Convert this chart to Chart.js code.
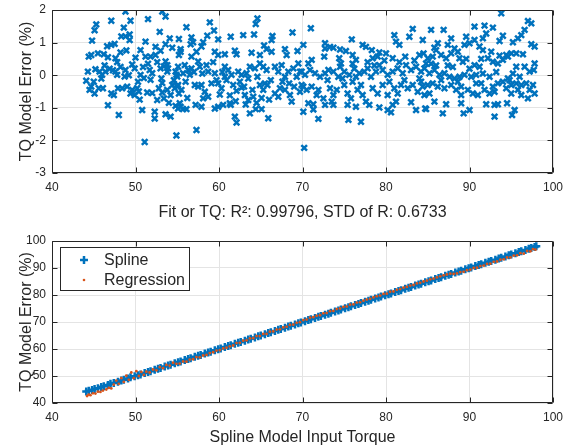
<!DOCTYPE html>
<html><head><meta charset="utf-8">
<script src="https://cdn.jsdelivr.net/npm/chart.js@4.4.0/dist/chart.umd.min.js"></script>
<style>
html,body{margin:0;padding:0;background:#fff;width:564px;height:447px;overflow:hidden}
canvas{position:absolute;left:0}
#c1{top:0}
#c2{top:225px}
</style></head><body>
<canvas id="c1" width="564" height="225"></canvas>
<canvas id="c2" width="564" height="222"></canvas>
<script>
// ---------- top panel: model error (%) vs input torque ----------
const errX = [
48.8,53.2,53.6,51.5,49.4,47.1,45.3,45.1,48.6,52.9,
48.3,48.8,49.3,49.3,44.8,51.2,54.1,55.2,46.6,47.1,
47.5,48.9,48.2,45.5,46.2,44.4,44.7,46.7,47.6,47.8,
50.0,50.6,51.2,51.8,52.4,52.4,53.0,53.6,54.4,53.6,
53.8,55.2,55.4,49.6,49.9,44.3,45.2,45.7,46.4,46.0,
47.6,47.8,48.8,48.7,50.6,51.0,51.7,52.0,51.8,53.0,
53.4,53.9,53.8,54.8,55.0,44.1,44.7,45.1,45.6,46.1,
47.1,47.4,47.9,48.4,49.0,49.6,50.2,50.4,49.4,49.9,
51.4,52.8,53.2,53.8,54.2,53.2,54.4,52.6,53.4,55.0,
55.2,46.7,50.8,52.3,52.3,53.6,54.2,48.0,54.8,55.4,
54.9,51.1,
64.6,64.4,58.9,56.1,59.4,56.7,56.9,56.6,58.6,58.1,
57.9,59.9,61.4,62.9,64.2,66.4,66.3,68.8,55.4,57.3,
56.7,59.5,59.9,60.7,61.9,62.1,63.9,64.9,65.4,65.7,
66.3,67.9,68.1,69.4,70.1,55.1,55.9,56.3,56.7,54.9,
55.7,56.5,57.5,57.7,58.5,58.7,59.5,59.7,59.1,60.7,
61.1,60.7,61.5,62.3,62.7,63.3,63.7,64.3,64.9,65.3,
65.7,66.7,67.1,67.5,67.9,68.3,68.9,69.3,69.9,54.7,
55.5,55.1,57.1,57.5,57.9,58.3,58.7,58.1,59.9,60.3,
60.1,61.7,62.1,62.7,63.1,63.5,64.1,64.9,65.3,65.5,
66.7,67.1,67.3,67.9,68.5,68.7,69.7,70.1,55.3,55.1,
55.7,56.1,57.2,57.9,59.5,59.9,60.5,61.3,61.4,61.9,
62.1,63.7,64.4,65.1,65.9,70.1,57.3,70.2,
71.0,75.9,72.7,73.3,73.7,72.7,74.5,75.2,77.2,77.6,
78.3,79.2,80.0,81.0,81.2,81.6,83.2,82.8,84.4,82.3,
80.8,84.0,84.5,72.6,71.1,70.7,74.4,74.6,76.0,76.4,
78.4,79.0,69.5,69.7,70.3,70.9,71.5,72.1,72.7,73.1,
73.7,74.3,74.5,75.0,75.6,76.0,76.4,76.8,77.4,77.8,
78.2,78.8,79.2,79.6,80.2,80.8,81.4,82.0,82.4,83.0,
83.6,84.2,84.8,69.9,70.5,71.1,71.7,71.9,72.5,73.3,
73.7,74.1,73.5,75.0,75.4,75.8,76.6,77.2,77.6,77.0,
78.4,79.0,79.6,80.2,81.0,81.4,81.8,82.6,83.2,83.8,
84.4,81.2,80.8,83.0,70.7,71.3,72.7,73.7,75.4,76.4,
78.0,79.2,80.2,80.6,71.3,83.6,84.7,71.9,75.5,77.0,
93.8,97.0,97.4,90.6,91.8,92.8,85.4,86.9,96.6,96.2,
95.8,94.0,93.6,91.6,92.0,89.6,87.8,97.4,97.8,95.2,
96.4,86.2,85.8,86.0,87.4,88.2,88.6,89.4,90.0,90.6,
91.2,91.6,92.6,94.4,95.0,95.6,85.0,85.6,86.6,87.2,
87.8,88.8,89.2,90.6,91.2,92.2,92.8,93.4,94.0,94.6,
95.6,96.6,97.8,97.7,97.2,84.6,85.2,85.8,86.4,87.0,
87.6,88.2,88.8,89.4,90.2,90.8,91.4,92.4,93.4,94.0,
94.6,95.0,95.6,96.2,96.8,97.6,84.2,85.0,85.6,86.2,
87.0,87.8,88.4,89.0,89.8,90.4,91.0,91.8,92.4,93.0,
94.4,95.0,95.8,96.2,97.0,97.8,85.2,84.6,89.0,89.0,
85.8,87.2,84.8,86.8,89.3,90.0,92.0,93.0,93.4,94.5,
93.0,95.1,95.4,
60.9,61.3,62.5,63.0,63.5,64.0,64.6,65.1,65.8,66.2,
62.0,63.2,64.5,66.0,67.6,68.4,69.0,60.4,59.3,58.0,
57.0,56.0,54.6,53.1,52.6,51.5,50.9,50.3,49.2,48.2,
46.9,45.9,45.0,44.5,46.3,47.3,50.5,52.0,54.0,56.2,
73.0,74.8,76.2,78.6,80.4,82.2,84.0,86.0,88.0,90.0,
91.6,93.2,95.2,96.0,97.2,86.6,88.6,90.8,92.8,94.8,
76.0,77.8,79.8,81.6,83.4,85.4,87.4,89.6,91.4,93.6
];
const errY = [
1.95,1.95,1.80,1.72,1.67,1.67,1.56,1.38,1.46,1.33,
1.19,1.19,1.25,1.08,1.06,1.03,1.13,1.11,0.89,0.93,
0.96,0.76,0.70,0.67,0.64,0.57,0.62,0.55,0.52,0.40,
0.54,0.77,0.57,0.57,0.62,0.87,0.75,0.95,0.84,0.42,
0.31,0.62,0.72,0.33,0.21,0.11,0.18,0.11,0.11,0.01,
0.11,0.01,0.16,-0.04,0.01,-0.09,0.16,0.06,-0.14,0.21,
0.27,0.21,0.11,0.11,-0.04,-0.17,-0.35,-0.56,-0.40,-0.40,
-0.56,-0.61,-0.40,-0.40,-0.35,-0.45,-0.40,-0.50,-0.56,-0.61,
-0.53,-0.40,-0.53,-0.45,-0.61,-0.24,-0.30,-0.76,-0.71,-0.35,
-0.56,-0.92,-1.07,-1.12,-1.33,-1.20,-1.27,-1.22,-0.94,-0.97,
-1.85,-2.05,
1.74,1.57,1.62,1.47,1.37,1.16,1.01,0.95,1.21,1.01,
0.88,1.10,1.18,1.23,1.25,1.20,1.08,1.31,0.80,0.72,
0.57,0.72,0.62,0.64,0.75,0.64,0.69,0.62,0.91,0.80,
0.72,0.80,0.62,0.74,0.93,0.26,0.31,0.16,0.21,0.01,
0.06,0.01,0.42,0.26,0.31,0.11,0.06,-0.15,-0.25,0.26,
0.16,-0.05,0.01,0.11,0.01,0.06,0.26,0.21,0.36,0.26,
0.16,0.26,0.11,0.31,-0.05,0.11,0.21,-0.05,0.11,-0.40,
-0.45,-0.30,-0.30,-0.35,-0.30,-0.51,-0.66,-0.71,-0.25,-0.40,
-0.59,-0.30,-0.48,-0.38,-0.61,-0.76,-0.66,-0.30,-0.45,-0.25,
-0.56,-0.66,-0.40,-0.45,-0.61,-0.81,-0.51,-0.35,-0.86,-1.02,
-1.04,-1.04,-0.91,-0.97,-1.02,-0.97,-0.91,-0.86,-0.91,-1.27,
-1.45,-1.17,-1.04,-1.04,-1.32,-1.12,-1.68,-2.23,
1.44,1.10,0.98,0.87,0.84,0.82,0.79,0.74,0.93,0.87,
0.77,0.70,0.67,1.23,1.03,0.93,1.42,1.18,1.08,0.57,
0.52,0.62,0.67,0.57,0.47,0.36,0.52,0.36,0.62,0.47,
0.52,0.57,0.36,0.11,0.01,0.16,0.06,-0.05,0.06,0.16,
0.11,-0.05,0.26,0.11,0.01,-0.20,-0.05,0.06,0.11,0.21,
-0.05,0.11,0.31,0.16,0.01,0.11,0.21,0.06,0.31,0.16,
0.26,0.11,0.36,-0.30,-0.45,-0.35,-0.61,-0.45,-0.71,-0.40,
-0.61,-0.45,-0.81,-0.30,-0.56,-0.71,-0.45,-0.61,-0.81,-0.30,
-0.40,-0.56,-0.30,-0.61,-0.40,-0.56,-0.30,-0.40,-0.30,-0.51,
-0.35,-0.81,-0.91,-0.83,-0.86,-0.89,-0.91,-0.91,-0.91,-0.97,
-0.91,-0.99,-1.07,-1.14,-1.05,-1.07,-1.02,-1.34,-1.37,-1.43,
1.90,1.66,1.59,1.49,1.52,1.46,1.39,1.39,1.39,1.23,
1.13,1.21,1.05,1.13,1.28,1.18,1.13,0.95,0.88,1.01,
0.64,0.98,0.84,0.77,0.93,0.82,0.72,0.93,0.98,1.08,
0.88,0.77,0.72,0.62,0.67,0.67,0.52,0.57,0.62,0.52,
0.67,0.52,0.41,0.31,0.26,0.52,0.41,0.36,0.47,0.57,
0.26,0.26,0.36,0.16,0.11,0.21,0.06,0.16,0.01,0.06,
-0.05,-0.10,-0.05,0.01,-0.05,0.01,-0.25,-0.05,-0.25,-0.20,
-0.10,-0.30,-0.25,-0.30,-0.25,-0.30,-0.20,-0.30,-0.25,-0.35,
-0.40,-0.30,-0.45,-0.35,-0.45,-0.56,-0.61,-0.45,-0.56,-0.51,
-0.40,-0.56,-0.45,-0.61,-0.71,-0.56,-0.56,-0.61,-0.61,-0.86,
-0.81,-0.89,-1.04,-1.17,-1.17,-1.07,-0.89,-0.91,-0.89,-0.86,
-1.27,-1.22,-1.07,
-0.15,-0.62,-0.20,-0.35,-0.10,-0.45,-0.05,-0.70,-0.30,-0.15,
-0.80,-0.90,-0.85,-0.75,-0.20,-0.25,-0.35,0.10,0.40,0.05,
0.10,-0.20,-0.15,-0.10,0.40,0.35,0.25,-0.20,0.00,0.25,
0.20,-0.10,-0.20,-0.45,0.30,0.15,-0.75,-0.55,-0.85,-0.70,
-0.15,-0.10,0.20,0.30,-0.20,-0.15,-0.10,0.30,0.25,0.20,
0.05,0.10,0.05,-0.05,-0.45,-0.15,-0.20,-0.25,-0.35,-0.15,
0.35,0.40,0.45,0.40,0.45,0.35,0.30,0.50,0.50,0.60
];

// ---------- bottom panel: model outputs vs input torque ----------
const splineX = [
44.1,44.4,44.8,45.1,45.5,45.9,46.2,46.7,47.0,47.4,
47.9,48.3,48.6,49.1,49.4,49.9,50.3,50.6,51.1,51.5,
51.8,52.3,52.7,53.0,53.5,53.9,54.2,54.7,55.1,55.4,
55.9,56.3,56.6,57.1,57.5,57.8,58.3,58.7,59.0,59.5,
59.9,60.2,60.7,61.1,61.4,61.9,62.3,62.6,63.1,63.5,
63.8,64.3,64.7,65.0,65.5,65.9,66.2,66.7,67.1,67.4,
67.9,68.3,68.6,69.1,69.5,69.8,70.3,70.7,71.0,71.5,
71.9,72.2,72.7,73.1,73.4,73.9,74.3,74.6,75.1,75.5,
75.8,76.3,76.7,77.0,77.5,77.9,78.2,78.7,79.1,79.4,
79.9,80.3,80.6,81.1,81.5,81.8,82.3,82.7,83.0,83.5,
83.9,84.2,84.7,85.1,85.4,85.9,86.3,86.6,87.1,87.5,
87.8,88.3,88.7,89.0,89.5,89.9,90.2,90.7,91.1,91.4,
91.9,92.3,92.6,93.1,93.5,93.8,94.3,94.7,95.0,95.5,
95.9,96.2,96.7,97.1,97.4,97.8,98.0
];
const splineY = [
44.3,44.5,44.8,45.2,45.5,45.9,46.2,46.7,47.1,47.4,
47.9,48.3,48.6,49.1,49.5,49.9,50.3,50.6,51.1,51.5,
51.8,52.3,52.7,53.0,53.5,53.9,54.2,54.7,55.1,55.4,
55.9,56.3,56.6,57.1,57.5,57.8,58.3,58.7,59.0,59.5,
59.9,60.2,60.7,61.1,61.4,61.9,62.3,62.6,63.1,63.5,
63.8,64.3,64.7,65.0,65.5,65.9,66.2,66.7,67.1,67.4,
67.9,68.3,68.6,69.1,69.5,69.8,70.3,70.7,71.0,71.5,
71.9,72.2,72.7,73.1,73.4,73.9,74.3,74.6,75.1,75.5,
75.8,76.3,76.7,77.0,77.5,77.9,78.2,78.7,79.1,79.4,
79.9,80.3,80.6,81.1,81.5,81.8,82.3,82.7,83.0,83.5,
83.9,84.2,84.7,85.1,85.4,85.9,86.3,86.6,87.1,87.5,
87.8,88.3,88.7,89.0,89.5,89.9,90.2,90.7,91.1,91.4,
91.9,92.3,92.6,93.1,93.5,93.8,94.3,94.7,95.0,95.5,
95.9,96.2,96.7,97.1,97.4,97.8,98.1
];
const regX = [
44.2,44.4,44.6,44.9,45.2,45.5,45.8,46.1,46.5,46.8,47.1,
47.4,47.7,48.0,48.3,48.6,48.9,49.2,49.5,49.8,50.1,50.4,50.7,51.0,
51.3,51.7,52.1,52.5,52.9,53.3,53.7,54.1,54.5,54.9,
55.3,55.7,56.1,56.5,56.9,57.3,57.7,58.1,58.5,58.9,59.3,59.7,60.1,60.5,60.9,61.3,61.7,
62.1,62.5,62.9,63.3,63.7,64.1,64.5,64.9,65.3,65.7,66.1,66.5,66.9,67.3,67.7,68.1,68.5,68.9,69.3,69.7,
70.1,70.5,70.9,71.3,71.7,72.1,72.5,72.9,73.3,73.7,74.1,74.5,74.9,75.3,75.7,76.1,76.5,76.9,77.3,77.7,
78.1,78.5,78.9,79.3,79.7,80.1,80.5,80.9,81.3,81.7,82.1,82.5,82.9,83.3,83.7,84.1,84.5,84.9,85.3,85.7,
86.1,86.5,86.9,87.3,87.7,
88.1,88.5,88.9,89.3,89.7,90.1,90.5,90.9,91.3,91.7,92.1,92.5,92.9,93.3,93.7,94.1,94.5,94.9,95.3,95.7,
96.1,96.5,96.9,97.3,97.6,97.9
];
const regY = [
42.6,43.1,42.9,43.6,43.5,44.2,44.1,44.6,45.0,45.6,45.4,
46.8,48.3,47.1,49.2,47.8,50.1,48.6,51.3,49.2,51.8,50.0,51.5,50.4,
51.6,51.3,52.4,52.1,53.3,52.9,54.1,53.8,54.9,54.5,
54.6,55.4,55.3,56.1,56.2,57.0,56.9,57.6,57.8,58.5,58.8,59.4,59.6,60.2,60.5,61.0,61.3,
62.2,62.3,63.1,63.2,63.9,64.0,64.8,64.8,65.6,65.6,66.4,66.5,67.2,67.3,68.0,68.2,68.9,69.0,69.7,69.9,
70.7,70.9,71.6,71.8,72.3,72.5,73.2,73.3,74.0,74.1,74.8,75.0,75.6,75.7,76.4,76.5,77.2,77.3,77.9,78.3,
78.6,79.1,79.5,79.8,80.4,80.5,81.2,81.3,81.9,82.2,82.7,83.0,83.5,83.7,84.3,84.5,85.0,85.3,85.8,86.1,
86.5,86.9,87.3,87.6,87.9,
87.8,88.0,88.5,88.6,89.2,89.4,90.0,90.1,90.7,90.9,91.5,91.6,92.3,92.4,93.1,93.2,93.9,93.9,94.6,94.7,
95.5,95.3,96.3,96.2,97.0,96.8
];

const xTicks = [40, 50, 60, 70, 80, 90, 100];
const errTicks = [-3, -2, -1, 0, 1, 2];
const outTicks = [40, 50, 60, 70, 80, 90, 100];
const topXTitle = 'Fit or TQ: R\u00B2: 0.99796, STD of R: 0.6733';
const yTitle = 'TQ Model Error (%)';
const bottomXTitle = 'Spline Model Input Torque';
const legendNames = ['Spline', 'Regression'];

const FONT = '"Liberation Sans", Arial, Helvetica, sans-serif';
const TXT = '#262626';
const GRID = '#e4e4e4';
const BLUE = '#0072BD', ORANGE = '#D95319';

Chart.defaults.font.family = FONT;
Chart.defaults.color = TXT;

const toPts = (xs, ys) => xs.map((v, i) => ({x: v, y: ys[i]}));

const boxPlugin = {
  id: 'box',
  afterDraw(chart) {
    const {ctx, chartArea: a, scales: {x, y}} = chart;
    const L = Math.round(a.left) + 0.5, R = Math.round(a.right) - 0.5;
    const T = Math.round(a.top) + 0.5, B = Math.round(a.bottom) - 0.5;
    const tl = 5;
    ctx.save();
    ctx.strokeStyle = TXT;
    ctx.lineWidth = 1;
    ctx.beginPath();
    ctx.rect(L, T, R - L, B - T);
    x.ticks.forEach(t => {
      const p = Math.round(x.getPixelForValue(t.value)) + 0.5;
      ctx.moveTo(p, B); ctx.lineTo(p, B - tl);
      ctx.moveTo(p, T); ctx.lineTo(p, T + tl);
    });
    y.ticks.forEach(t => {
      const p = Math.round(y.getPixelForValue(t.value)) + 0.5;
      ctx.moveTo(L, p); ctx.lineTo(L + tl, p);
      ctx.moveTo(R, p); ctx.lineTo(R - tl, p);
    });
    ctx.stroke();
    ctx.restore();
  }
};

const legendPlugin = {
  id: 'boxLegend',
  afterDraw(chart) {
    const {ctx} = chart;
    const bx = 60.5, by = 22.5, bw = 129, bh = 43;
    ctx.save();
    ctx.fillStyle = '#fff';
    ctx.fillRect(bx, by, bw, bh);
    ctx.strokeStyle = TXT;
    ctx.lineWidth = 1;
    ctx.strokeRect(bx, by, bw, bh);
    ctx.strokeStyle = BLUE; ctx.lineWidth = 2.5;
    ctx.beginPath();
    ctx.moveTo(80, 35); ctx.lineTo(88, 35);
    ctx.moveTo(84, 31); ctx.lineTo(84, 39);
    ctx.stroke();
    ctx.fillStyle = ORANGE;
    ctx.beginPath(); ctx.arc(84, 55, 1.3, 0, Math.PI * 2); ctx.fill();
    ctx.fillStyle = TXT;
    ctx.font = '16px ' + FONT;
    ctx.textBaseline = 'middle';
    ctx.fillText(legendNames[0], 104, 35.5);
    ctx.fillText(legendNames[1], 104, 55.5);
    ctx.restore();
  }
};

function axisX(ticks, title, h, padB) {
  return {
    type: 'linear', min: 40, max: 100,
    afterBuildTicks: s => { s.ticks = ticks.map(v => ({value: v})); },
    afterFit: s => { s.height = h; s.paddingLeft = 0; s.paddingRight = 0; },
    grid: {color: GRID, drawTicks: false},
    border: {display: false},
    ticks: {font: {size: 12}, color: TXT, padding: 7, maxRotation: 0},
    title: {display: true, text: title, font: {size: 16}, color: TXT, padding: {top: 0, bottom: padB}}
  };
}
function axisY(ticks, min, max) {
  return {
    type: 'linear', min: min, max: max,
    afterBuildTicks: s => { s.ticks = ticks.map(v => ({value: v})); },
    afterFit: s => { s.width = 52; s.paddingTop = 0; s.paddingBottom = 0; },
    grid: {color: GRID, drawTicks: false},
    border: {display: false},
    ticks: {font: {size: 12}, color: TXT, padding: 6},
    title: {display: true, text: yTitle, font: {size: 16}, color: TXT, padding: {top: 17, bottom: 0}}
  };
}

new Chart(document.getElementById('c1'), {
  type: 'scatter',
  data: {
    datasets: [{
      label: 'Error',
      data: toPts(errX, errY),
      pointStyle: 'crossRot',
      pointRadius: 4,
      borderColor: BLUE,
      backgroundColor: BLUE,
      pointBorderWidth: 2.5
    }]
  },
  options: {
    responsive: false, animation: false, events: [],
    layout: {padding: {top: 10, right: 11, left: 0, bottom: 0}},
    plugins: {legend: {display: false}, tooltip: {enabled: false}},
    scales: {x: axisX(xTicks, topXTitle, 52, 3), y: axisY(errTicks, -3, 2)}
  },
  plugins: [boxPlugin]
});

new Chart(document.getElementById('c2'), {
  type: 'scatter',
  data: {
    datasets: [{
      label: legendNames[0],
      data: toPts(splineX, splineY),
      pointStyle: 'cross',
      pointRadius: 4,
      borderColor: BLUE,
      backgroundColor: BLUE,
      pointBorderWidth: 2.5,
      order: 2
    }, {
      label: legendNames[1],
      data: toPts(regX, regY),
      pointStyle: 'circle',
      pointRadius: 1.4,
      borderWidth: 0,
      pointBorderWidth: 0,
      borderColor: ORANGE,
      backgroundColor: ORANGE,
      order: 1
    }]
  },
  options: {
    responsive: false, animation: false, events: [],
    layout: {padding: {top: 16, right: 11, left: 0, bottom: 0}},
    plugins: {legend: {display: false}, tooltip: {enabled: false}},
    scales: {x: axisX(xTicks, bottomXTitle, 44, 0), y: axisY(outTicks, 40, 100)}
  },
  plugins: [boxPlugin, legendPlugin]
});
</script>
</body></html>
